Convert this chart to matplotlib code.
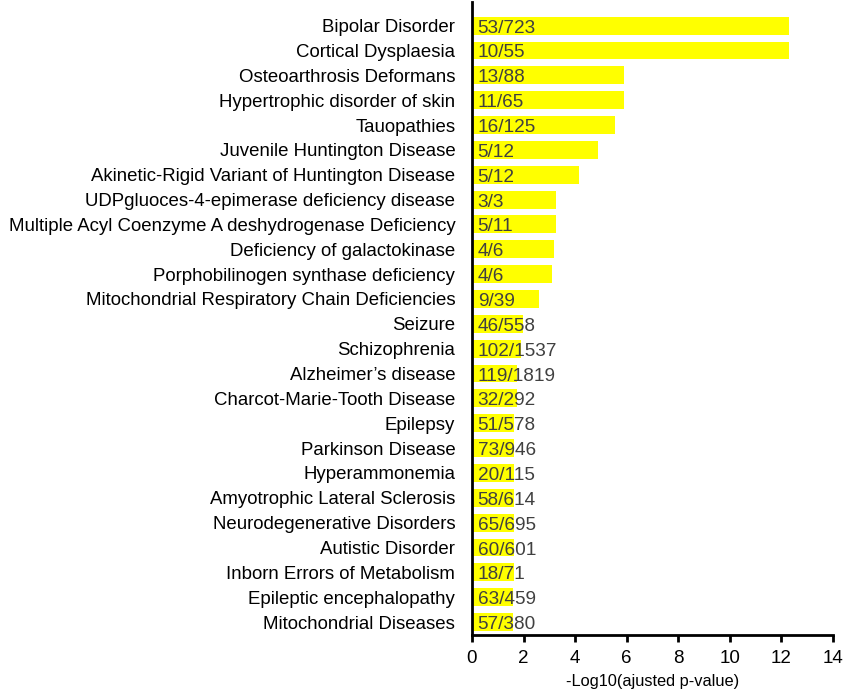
import matplotlib

matplotlib.use("Agg")
import matplotlib.pyplot as plt
import numpy as np

plt.rcParams['font.family'] = ['Liberation Sans', 'DejaVu Sans']

# top to bottom, as in the figure
diseases = [
    "Bipolar Disorder",
    "Cortical Dysplaesia",
    "Osteoarthrosis Deformans",
    "Hypertrophic disorder of skin",
    "Tauopathies",
    "Juvenile Huntington Disease",
    "Akinetic-Rigid Variant of Huntington Disease",
    "UDPgluoces-4-epimerase deficiency disease",
    "Multiple Acyl Coenzyme A deshydrogenase Deficiency",
    "Deficiency of galactokinase",
    "Porphobilinogen synthase deficiency",
    "Mitochondrial Respiratory Chain Deficiencies",
    "Seizure",
    "Schizophrenia",
    "Alzheimer\u2019s disease",
    "Charcot-Marie-Tooth Disease",
    "Epilepsy",
    "Parkinson Disease",
    "Hyperammonemia",
    "Amyotrophic Lateral Sclerosis",
    "Neurodegenerative Disorders",
    "Autistic Disorder",
    "Inborn Errors of Metabolism",
    "Epileptic encephalopathy",
    "Mitochondrial Diseases",
]
neg_log_p = [12.3, 12.3, 5.89, 5.89, 5.54, 4.88, 4.16, 3.26, 3.26, 3.18, 3.10, 2.58,
             1.99, 1.90, 1.76, 1.76, 1.63, 1.63, 1.63, 1.63, 1.63, 1.63, 1.63, 1.60, 1.60]
gene_ratio = ["53/723", "10/55", "13/88", "11/65", "16/125", "5/12", "5/12", "3/3",
              "5/11", "4/6", "4/6", "9/39", "46/558", "102/1537", "119/1819", "32/292",
              "51/578", "73/946", "20/115", "58/614", "65/695", "60/601", "18/71",
              "63/459", "57/380"]

fig = plt.figure(figsize=(8.49, 7.0), dpi=100)
ax = fig.add_axes([472 / 849, 1 - 635 / 700, 361 / 849, 633 / 700])

y = np.arange(len(diseases))[::-1]
ax.barh(y, neg_log_p, height=0.72, color='#ffff00', zorder=1)
for yi, lab in zip(y, gene_ratio):
    ax.text(0.22, yi - 0.1, lab, va='center', ha='left', fontsize=13.7,
            color='#404040', zorder=3)

ax.set_yticks(y)
ax.set_yticklabels(diseases, fontsize=13.4, color='black')
ax.tick_params(axis='y', length=0, pad=12)
ax.set_ylim(-0.52, len(diseases) - 1 + 0.95)

ax.set_xlim(0, 14)
ax.set_xticks(np.arange(0, 15, 2))
ax.tick_params(axis='x', direction='out', length=5, width=2, labelsize=13.5,
               pad=6, colors='black')
ax.set_xlabel("-Log10(ajusted p-value)", fontsize=11.8, labelpad=5)

for s in ['top', 'right']:
    ax.spines[s].set_visible(False)
for s in ['left', 'bottom']:
    ax.spines[s].set_linewidth(2)

fig.savefig('out.png', dpi=100)
plt.close(fig)
